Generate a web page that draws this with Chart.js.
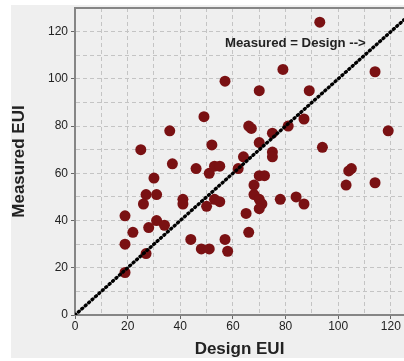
<!DOCTYPE html>
<html>
<head>
<meta charset="utf-8">
<script src="https://cdn.jsdelivr.net/npm/chart.js@4"></script>
<style>
  html, body { margin: 0; padding: 0; background: #ffffff; width: 404px; height: 361px; overflow: hidden; }
  #wrap { position: absolute; left: 11px; top: 5px; width: 393px; height: 353px; background: #efefef; }
</style>
</head>
<body>
<div id="wrap"><canvas id="c"></canvas></div>
<script>
// Data
const designEUI = [93, 79, 114, 57, 70, 89, 49, 87, 66, 67, 81, 36, 119, 75, 25, 52, 94, 70, 75, 75,
  37, 64, 46, 51, 53, 55, 62, 104, 105, 103, 114, 30, 70, 72, 68, 68, 70, 71, 70, 27,
  31, 26, 41, 41, 53, 55, 50, 78, 84, 87, 19, 65, 31, 34, 28, 22, 66, 44, 57, 19,
  48, 51, 58, 27, 19];
const measuredEUI = [124, 104, 103, 99, 95, 95, 84, 83, 80, 79, 80, 78, 78, 77, 70, 72, 71, 73, 69, 67,
  64, 67, 62, 60, 63, 63, 62, 61, 62, 55, 56, 58, 59, 59, 55, 51, 49, 47, 45, 51,
  51, 47, 49, 47, 49, 48, 46, 49, 50, 47, 42, 43, 40, 38, 37, 35, 35, 32, 32, 30,
  28, 28, 27, 26, 18];
const identityX = [0, 125];
const identityY = [0, 125];
const xTickLabels = [0, 20, 40, 60, 80, 100, 120];
const yTickLabels = [0, 20, 40, 60, 80, 100, 120];
const annotationText = 'Measured = Design -->';
const annotationAt = [57, 115];

const points = designEUI.map((x, i) => ({ x: x, y: measuredEUI[i] }));
const identity = identityX.map((x, i) => ({ x: x, y: identityY[i] }));

const frameAndLabel = {
  id: 'frameAndLabel',
  afterDatasetsDraw(chart) {
    const { ctx, chartArea, scales } = chart;
    ctx.save();
    ctx.strokeStyle = '#858585';
    ctx.lineWidth = 2;
    ctx.beginPath();
    ctx.moveTo(chartArea.left - 1, chartArea.top);
    ctx.lineTo(chartArea.right, chartArea.top);
    ctx.stroke();
    ctx.font = 'bold 13.2px "Liberation Sans", Arial, sans-serif';
    ctx.fillStyle = '#222';
    ctx.textAlign = 'left';
    ctx.textBaseline = 'middle';
    ctx.fillText(annotationText, scales.x.getPixelForValue(annotationAt[0]), scales.y.getPixelForValue(annotationAt[1]));
    ctx.restore();
  }
};

const gridOpts = {
  color: '#c4c4c4',
  lineWidth: 1,
  tickLength: 4,
  tickColor: (c) => (c.tick && c.tick.value % 20 === 0) ? '#666' : 'rgba(0,0,0,0)'
};
const fontFam = '"Liberation Sans", Arial, sans-serif';

new Chart(document.getElementById('c'), {
  data: {
    datasets: [
      {
        type: 'line',
        data: identity,
        borderColor: '#000',
        borderWidth: 3.4,
        borderDash: [1, 3.6],
        borderCapStyle: 'round',
        pointRadius: 0,
        fill: false,
        order: 0
      },
      {
        type: 'scatter',
        data: points,
        backgroundColor: '#7a1113',
        borderColor: '#7a1113',
        borderWidth: 0,
        pointRadius: 5.5,
        order: 1
      }
    ]
  },
  plugins: [frameAndLabel],
  options: {
    responsive: true,
    maintainAspectRatio: false,
    animation: false,
    layout: { autoPadding: false, padding: { top: 3, right: 0, left: 0, bottom: 0 } },
    plugins: { legend: { display: false }, tooltip: { enabled: false } },
    scales: {
      x: {
        type: 'linear',
        min: 0, max: 125,
        afterFit: (s) => { s.height = 43; s.paddingLeft = 0; s.paddingRight = 0; },
        afterBuildTicks: (s) => { const t = []; for (let v = 0; v <= 120; v += 10) t.push({ value: v }); s.ticks = t; },
        ticks: {
          autoSkip: false,
          maxRotation: 0,
          padding: 0,
          color: '#222',
          font: { family: fontFam, size: 12 },
          callback: (v) => xTickLabels.includes(v) ? String(v) : ''
        },
        grid: gridOpts,
        border: { display: true, color: '#858585', width: 2, dash: [4, 3] },
        title: {
          display: true, text: 'Design EUI', color: '#222',
          font: { family: fontFam, size: 17, weight: 'bold', lineHeight: 1 },
          padding: { top: 0, bottom: 0 }
        }
      },
      y: {
        type: 'linear',
        min: 0, max: 130,
        afterFit: (s) => { s.width = 64; s.paddingTop = 0; s.paddingBottom = 0; },
        afterBuildTicks: (s) => { const t = []; for (let v = 0; v <= 130; v += 10) t.push({ value: v }); s.ticks = t; },
        ticks: {
          autoSkip: false,
          padding: 3,
          color: '#222',
          font: { family: fontFam, size: 12 },
          callback: (v) => yTickLabels.includes(v) ? String(v) : ''
        },
        grid: gridOpts,
        border: { display: true, color: '#858585', width: 2, dash: [4, 3] },
        title: {
          display: true, text: 'Measured EUI', color: '#222',
          font: { family: fontFam, size: 17, weight: 'bold', lineHeight: 1 },
          padding: { top: 0, bottom: 0 }
        }
      }
    }
  }
});
</script>
</body>
</html>
